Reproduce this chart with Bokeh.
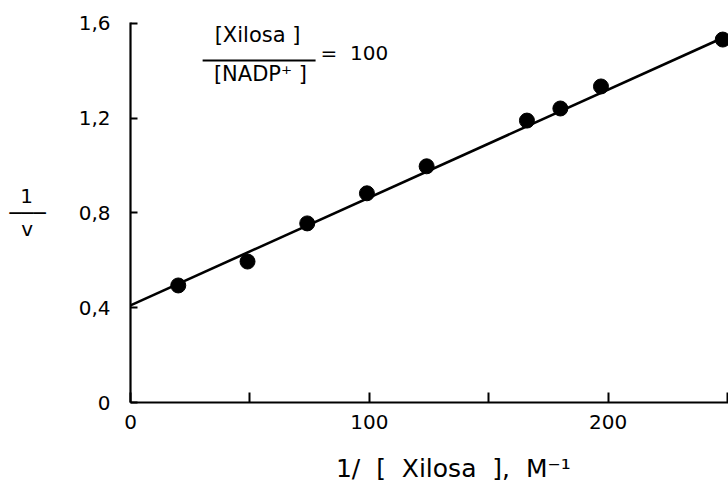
from bokeh.plotting import figure
from bokeh.models import Range1d, FixedTicker, Label
from bokeh.embed import file_html
from bokeh.resources import INLINE

# Lineweaver-Burk data: 1/[Xilosa] (M^-1) vs 1/v
inv_xilosa = [20, 49, 74, 99, 124, 166, 180, 197, 248]
inv_v = [0.494, 0.595, 0.756, 0.883, 0.997, 1.19, 1.241, 1.334, 1.532]

# fitted straight line (end points)
fit_x = [0, 250.4]
fit_y = [0.41, 1.55]

x_ticks = [0, 50, 100, 150, 200, 250]
x_tick_labels = {0: "0", 50: "", 100: "100", 150: "", 200: "200", 250: ""}
y_ticks = [0, 0.4, 0.8, 1.2, 1.6]
y_tick_labels = {0: "0", 0.4: "0,4", 0.8: "0,8", 1.2: "1,2", 1.6: "1,6"}

FONT = "DejaVu Sans"
NBSP = "\u00a0"

p = figure(width=728, height=498, output_backend="svg", toolbar_location=None,
           x_range=Range1d(0, 250.4), y_range=Range1d(0, 1.604))
p.min_border_left = 130
p.min_border_right = 0
p.min_border_top = 22
p.min_border_bottom = 96
p.outline_line_color = None
p.xgrid.visible = False
p.ygrid.visible = False
p.background_fill_color = "white"
p.border_fill_color = "white"

for ax in (p.xaxis[0], p.yaxis[0]):
    ax.axis_line_width = 2.2
    ax.axis_line_color = "black"
    ax.major_tick_line_width = 2
    ax.major_tick_line_color = "black"
    ax.major_tick_out = 0
    ax.minor_tick_line_color = None
    ax.major_label_text_font = FONT
    ax.major_label_text_font_size = "20px"
    ax.major_label_text_color = "black"
    ax.axis_label_text_font = FONT
    ax.axis_label_text_color = "black"
    ax.axis_label_text_font_style = "normal"

p.xaxis.ticker = FixedTicker(ticks=x_ticks)
p.xaxis.major_label_overrides = x_tick_labels
p.xaxis.major_tick_in = 10
p.xaxis.major_label_standoff = 12
p.xaxis.axis_label = (NBSP * 6 + "1/ " + NBSP + "[ " + NBSP + "Xilosa " + NBSP
                      + "], " + NBSP + "M\u207b\u00b9")
p.xaxis.axis_label_text_font_size = "25px"
p.xaxis.axis_label_standoff = 22

p.yaxis.ticker = FixedTicker(ticks=y_ticks)
p.yaxis.major_label_overrides = y_tick_labels
p.yaxis.major_tick_in = 7
p.yaxis.major_label_standoff = 20
# y title drawn as a stacked fraction 1/v
p.yaxis.axis_label = "1" + NBSP * 2 + "\n\u2500\u2500\u2500\nv" + NBSP * 2
p.yaxis.axis_label_orientation = "horizontal"
p.yaxis.axis_label_text_font_size = "20px"
p.yaxis.axis_label_text_line_height = 0.7
p.yaxis.axis_label_standoff = 30

# regression line and measured points
p.line(fit_x, fit_y, line_color="black", line_width=2.6)
p.scatter(inv_xilosa, inv_v, size=15, marker="circle",
          fill_color="black", line_color="black")

# ratio annotation: [Xilosa]/[NADP+] = 100
p.add_layout(Label(x=53.2, y=1.553, text="[Xilosa ]", text_align="center",
                   text_baseline="middle", text_font=FONT, text_font_size="21px",
                   text_color="black"))
p.segment(x0=[30.2], y0=[1.444], x1=[77.5], y1=[1.444], line_color="black", line_width=2)
p.add_layout(Label(x=54.4, y=1.385, text="[NADP\u207a ]", text_align="center",
                   text_baseline="middle", text_font=FONT, text_font_size="21px",
                   text_color="black"))
p.add_layout(Label(x=79.6, y=1.475, text="= " + NBSP + "100", text_align="left",
                   text_baseline="middle", text_font=FONT, text_font_size="20px",
                   text_color="black"))

open("out.html", "w").write(file_html(p, INLINE))
